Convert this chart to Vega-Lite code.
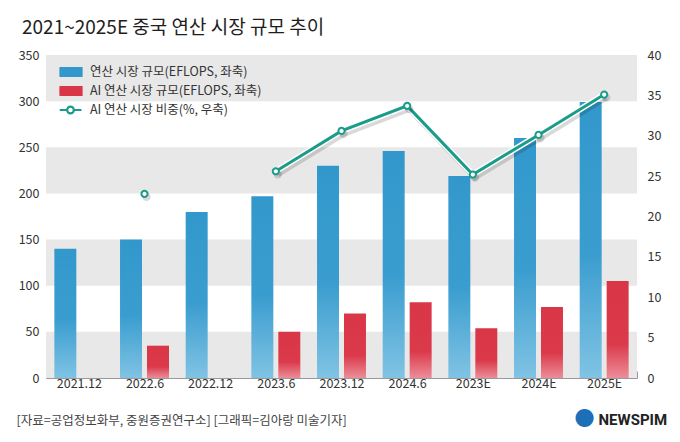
{
  "$schema": "https://vega.github.io/schema/vega-lite/v6.json",
  "width": 591,
  "height": 323,
  "autosize": {"type": "none"},
  "padding": {"left": 46, "top": 55, "right": 43, "bottom": 64},
  "background": "#ffffff",
  "config": {
    "font": "Noto Sans CJK KR",
    "view": {"stroke": null}
  },
  "title": {
    "text": "2021~2025E 중국 연산 시장 규모 추이",
    "anchor": "start",
    "frame": "group",
    "dx": -24,
    "offset": -4,
    "baseline": "alphabetic",
    "fontSize": 19,
    "fontWeight": "normal",
    "color": "#1e1e1e"
  },
  "datasets": {
    "main": [
      {"period": "2021.12", "series": "연산 시장 규모(EFLOPS, 좌축)", "value": 140},
      {"period": "2022.6", "series": "연산 시장 규모(EFLOPS, 좌축)", "value": 150},
      {"period": "2022.12", "series": "연산 시장 규모(EFLOPS, 좌축)", "value": 180},
      {"period": "2023.6", "series": "연산 시장 규모(EFLOPS, 좌축)", "value": 197},
      {"period": "2023.12", "series": "연산 시장 규모(EFLOPS, 좌축)", "value": 230},
      {"period": "2024.6", "series": "연산 시장 규모(EFLOPS, 좌축)", "value": 246},
      {"period": "2023E", "series": "연산 시장 규모(EFLOPS, 좌축)", "value": 219},
      {"period": "2024E", "series": "연산 시장 규모(EFLOPS, 좌축)", "value": 260},
      {"period": "2025E", "series": "연산 시장 규모(EFLOPS, 좌축)", "value": 299},
      {"period": "2022.6", "series": "AI 연산 시장 규모(EFLOPS, 좌축)", "value": 35},
      {"period": "2023.6", "series": "AI 연산 시장 규모(EFLOPS, 좌축)", "value": 50},
      {"period": "2023.12", "series": "AI 연산 시장 규모(EFLOPS, 좌축)", "value": 70},
      {"period": "2024.6", "series": "AI 연산 시장 규모(EFLOPS, 좌축)", "value": 82},
      {"period": "2023E", "series": "AI 연산 시장 규모(EFLOPS, 좌축)", "value": 54},
      {"period": "2024E", "series": "AI 연산 시장 규모(EFLOPS, 좌축)", "value": 77},
      {"period": "2025E", "series": "AI 연산 시장 규모(EFLOPS, 좌축)", "value": 105}
    ],
    "share": [
      {"period": "2021.12", "series": "AI 연산 시장 비중(%, 우축)", "value": null},
      {"period": "2022.6", "series": "AI 연산 시장 비중(%, 우축)", "value": 22.8},
      {"period": "2022.12", "series": "AI 연산 시장 비중(%, 우축)", "value": null},
      {"period": "2023.6", "series": "AI 연산 시장 비중(%, 우축)", "value": 25.6},
      {"period": "2023.12", "series": "AI 연산 시장 비중(%, 우축)", "value": 30.6},
      {"period": "2024.6", "series": "AI 연산 시장 비중(%, 우축)", "value": 33.7},
      {"period": "2023E", "series": "AI 연산 시장 비중(%, 우축)", "value": 25.2},
      {"period": "2024E", "series": "AI 연산 시장 비중(%, 우축)", "value": 30.1},
      {"period": "2025E", "series": "AI 연산 시장 비중(%, 우축)", "value": 35.1}
    ],
    "bands": [
      {"lo": 0, "hi": 50},
      {"lo": 100, "hi": 150},
      {"lo": 200, "hi": 250},
      {"lo": 300, "hi": 350}
    ]
  },
  "resolve": {"scale": {"y": "independent"}},
  "layer": [
    {
      "data": {"name": "main"},
      "encoding": {
        "x": {
          "field": "period",
          "type": "nominal",
          "sort": ["2021.12", "2022.6", "2022.12", "2023.6", "2023.12", "2024.6", "2023E", "2024E", "2025E"],
          "scale": {"paddingInner": 0, "paddingOuter": 0},
          "axis": {
            "title": "[자료=공업정보화부, 중원증권연구소] [그래픽=김아랑 미술기자]",
            "titleAnchor": "start",
            "titleAlign": "left",
            "titleX": -30,
            "titleY": 46,
            "titleBaseline": "alphabetic",
            "titleFontSize": 12.5,
            "titleFontWeight": "normal",
            "titleColor": "#444444",
            "labelAngle": 0,
            "labelFontSize": 12.5,
            "labelColor": "#333333",
            "labelPadding": 6,
            "tickBand": "extent",
            "tickSize": -7,
            "tickColor": "#999999",
            "domainColor": "#999999",
            "grid": false
          }
        },
        "y": {
          "field": "value",
          "type": "quantitative",
          "scale": {"domain": [0, 350]},
          "axis": {
            "values": [0, 50, 100, 150, 200, 250, 300, 350],
            "title": "●",
            "titleAngle": 0,
            "titleX": 538,
            "titleY": 364,
            "titleAlign": "center",
            "titleBaseline": "middle",
            "titleFontSize": 20,
            "titleColor": "#1d6fb8",
            "grid": false,
            "domain": false,
            "ticks": false,
            "labelFontSize": 12.5,
            "labelColor": "#333333",
            "labelPadding": 7
          }
        },
        "xOffset": {
          "field": "series",
          "type": "nominal",
          "scale": {"domain": ["연산 시장 규모(EFLOPS, 좌축)", "AI 연산 시장 규모(EFLOPS, 좌축)"], "paddingInner": 0.185, "paddingOuter": 0.31}
        }
      },
      "layer": [
        {
          "data": {"name": "bands"},
          "mark": {"type": "rect", "color": "#e8e8e8"},
          "encoding": {
            "x": null,
            "xOffset": null,
            "y": {"field": "lo", "type": "quantitative"},
            "y2": {"field": "hi"}
          }
        },
        {
          "transform": [{"filter": "datum.series === '연산 시장 규모(EFLOPS, 좌축)'"}],
          "mark": {
            "type": "bar",
            "color": {"gradient": "linear", "x1": 0, "y1": 0, "x2": 0, "y2": 1, "stops": [{"offset": 0, "color": "#3298cb"}, {"offset": 0.55, "color": "#3a9dcf"}, {"offset": 1, "color": "#80c3e4"}]}
          }
        },
        {
          "transform": [{"filter": "datum.series === 'AI 연산 시장 규모(EFLOPS, 좌축)'"}],
          "mark": {
            "type": "bar",
            "color": {"gradient": "linear", "x1": 0, "y1": 0, "x2": 0, "y2": 1, "stops": [{"offset": 0, "color": "#d93647"}, {"offset": 0.65, "color": "#db3a4b"}, {"offset": 1, "color": "#ec8d98"}]}
          }
        }
      ]
    },
    {
      "data": {"name": "share"},
      "encoding": {
        "x": {
          "field": "period",
          "type": "nominal",
          "sort": ["2021.12", "2022.6", "2022.12", "2023.6", "2023.12", "2024.6", "2023E", "2024E", "2025E"]
        },
        "y": {
          "field": "value",
          "type": "quantitative",
          "scale": {"domain": [0, 40]},
          "axis": {
            "orient": "right",
            "values": [0, 5, 10, 15, 20, 25, 30, 35, 40],
            "title": "NEWSPIM",
            "titleAngle": 0,
            "titleX": -39,
            "titleY": 364,
            "titleAlign": "left",
            "titleBaseline": "middle",
            "titleFontSize": 15,
            "titleFontWeight": "bold",
            "titleFont": "Roboto",
            "titleColor": "#222222",
            "grid": false,
            "domain": false,
            "ticks": false,
            "labelFontSize": 12.5,
            "labelColor": "#333333",
            "labelPadding": 10
          }
        }
      },
      "layer": [
        {
          "mark": {"type": "line", "invalid": "break-paths-show-domains", "color": "#000000", "opacity": 0.15, "strokeWidth": 6, "xOffset": 2, "yOffset": 3}
        },
        {
          "mark": {"type": "line", "invalid": "break-paths-show-domains", "color": "#ffffff", "strokeWidth": 6}
        },
        {
          "mark": {"type": "line", "invalid": "break-paths-show-domains", "strokeWidth": 3},
          "encoding": {
            "color": {
              "field": "series",
              "type": "nominal",
              "scale": {
                "domain": ["연산 시장 규모(EFLOPS, 좌축)", "AI 연산 시장 규모(EFLOPS, 좌축)", "AI 연산 시장 비중(%, 우축)"],
                "range": ["#3298cb", "#d93647", "#1b9c8b"]
              },
              "legend": {
                "title": null,
                "orient": "none",
                "legendX": 13.5,
                "legendY": 9.5,
                "labelFontSize": 12.5,
                "labelColor": "#333333",
                "labelOffset": 8.5,
                "labelLimit": 400,
                "clipHeight": 15,
                "rowPadding": 4,
                "symbolSize": 361,
                "encode": {
                  "symbols": {
                    "update": {
                      "shape": {"signal": "datum.value === 'AI 연산 시장 비중(%, 우축)' ? 'M-1.16,0H-0.35M0.35,0H1.16M-0.35,0A0.35,0.35,0,1,1,0.35,0A0.35,0.35,0,1,1,-0.35,0Z' : 'M-1.16,-0.42H1.16V0.42H-1.16Z'"},
                      "fill": {"signal": "datum.value === 'AI 연산 시장 비중(%, 우축)' ? '#ffffff' : (datum.value === '연산 시장 규모(EFLOPS, 좌축)' ? '#3298cb' : '#d93647')"},
                      "stroke": {"signal": "datum.value === 'AI 연산 시장 비중(%, 우축)' ? '#1b9c8b' : null"},
                      "strokeWidth": {"value": 2.2},
                      "opacity": {"value": 1},
                      "fillOpacity": {"value": 1}
                    }
                  }
                }
              }
            }
          }
        },
        {
          "mark": {"type": "point", "shape": "circle", "filled": true, "fill": "#000000", "opacity": 0.15, "size": 70, "xOffset": 2, "yOffset": 3}
        },
        {
          "mark": {"type": "point", "shape": "circle", "filled": true, "fill": "#ffffff", "stroke": "#1b9c8b", "strokeWidth": 2, "size": 38, "opacity": 1}
        }
      ]
    }
  ]
}
